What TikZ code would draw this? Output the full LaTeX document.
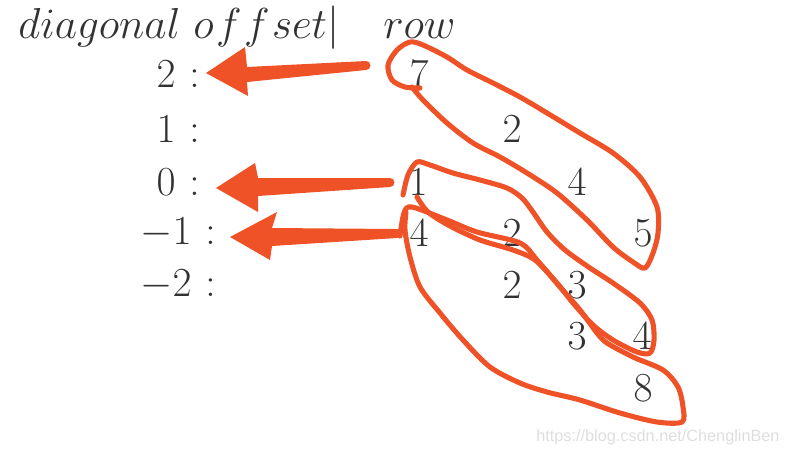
\documentclass[tikz,border=0pt]{standalone}
\usepackage{fix-cm}
\usepackage{fontspec}
\newfontfamily\wmfont{Liberation Sans}
\definecolor{pen}{RGB}{238,82,38}
\definecolor{ink}{RGB}{50,50,50}
\definecolor{wmgray}{RGB}{222,222,222}
\begin{document}
\begin{tikzpicture}[x=0.75pt,y=-0.75pt,
  txt/.style={text=ink, font=\fontsize{31}{37}\selectfont, inner sep=0pt},
  hdrtxt/.style={text=ink, font=\fontsize{32.5}{39}\selectfont, inner sep=0pt},
  handloop/.style={draw=pen, line width=3.8pt, line cap=round, line join=round},
  bigarrow/.style={fill=pen}]
\useasboundingbox (0,0) rectangle (792,458);

% header
\node[hdrtxt, anchor=base west] (hdr) at (18,38) {$diagonal\ o\mkern1mu f\mkern1mu f\mkern1mu set|$};
\node[hdrtxt, anchor=base west] (rowlbl) at (383,38) {$row$};

% offsets
\node[txt, anchor=east] (o2) at (200,74) {$2\mkern6mu{:}$};
\node[txt, anchor=east] (o1) at (200,129) {$1\mkern6mu{:}$};
\node[txt, anchor=east] (o0) at (200,182) {$0\mkern6mu{:}$};
\node[txt, anchor=east] (om1) at (216,233) {$-1\mkern6mu{:}$};
\node[txt, anchor=east] (om2) at (216,285) {$-2\mkern6mu{:}$};

% values
\node[txt] (a7) at (419,74) {$7$};
\node[txt] (b2) at (512,129) {$2$};
\node[txt] (c4) at (577,182) {$4$};
\node[txt] (a1) at (418,182) {$1$};
\node[txt] (d5) at (643,233) {$5$};
\node[txt] (a4) at (419,233) {$4$};
\node[txt] (b2b) at (512,233) {$2$};
\node[txt] (b2c) at (512,285) {$2$};
\node[txt] (c3) at (577,285) {$3$};
\node[txt] (c3b) at (577,336) {$3$};
\node[txt] (d4) at (642,336) {$4$};
\node[txt] (d8) at (643,388) {$8$};

% arrows
\fill[bigarrow] (366,61) -- (247,67) -- (245,47) -- (206,73) -- (248,96) -- (247,82) -- (366,70) -- cycle;
\fill[bigarrow] (366,65.5) circle (4.5);
\fill[bigarrow] (390,178) -- (258,178) -- (255,163) -- (216,188) -- (258,212) -- (258,196) -- (390,187) -- cycle;
\fill[bigarrow] (390,182.5) circle (4.5);
\fill[bigarrow] (397,229) -- (272,228) -- (277,212) -- (230,237) -- (270,260) -- (272,246) -- (397,238) -- cycle;
\fill[bigarrow] (397,233.5) circle (4.5);

% loop around diagonal 2
\draw[handloop] plot[smooth, tension=0.5] coordinates {(420,88) (405,87) (392,80) (388,65) (397,50) (410,42) (423,45) (447,57) (467,70) (493,83) (520,97) (547,113) (580,133) (613,153) (640,177) (657,207) (658,233) (653,253) (645,268) (633,262) (613,247) (587,220) (557,193) (527,173) (500,157) (473,143) (447,123) (423,100) (412,87)};

% loop around diagonal 0
\draw[handloop] plot[smooth, tension=0.5] coordinates {(403,195) (408,175) (417,162) (430,165) (453,173) (480,180) (507,188) (522,198) (533,212) (547,232) (565,250) (590,268) (613,283) (640,303) (652,320) (654,340) (650,353) (637,352) (613,340) (593,325) (573,303) (557,283) (535,260) (513,250) (480,240) (450,226) (428,212) (417,197)};

% loop around diagonal -1
\draw[handloop] plot[smooth, tension=0.5] coordinates {(400,236) (404,213) (412,207) (447,220) (477,232) (520,243) (537,260) (560,287) (580,310) (597,333) (607,343) (633,357) (663,370) (678,387) (683,407) (682,422) (657,422) (620,413) (580,400) (547,392) (520,383) (490,367) (463,340) (440,313) (420,287) (410,257) (405,230) (406,212)};

% watermark
\node[anchor=west, text=wmgray, font=\wmfont\fontsize{12.2}{14}\selectfont, inner sep=0pt] (wm) at (536,437) {https://blog.csdn.net/ChenglinBen};
\end{tikzpicture}
\end{document}
